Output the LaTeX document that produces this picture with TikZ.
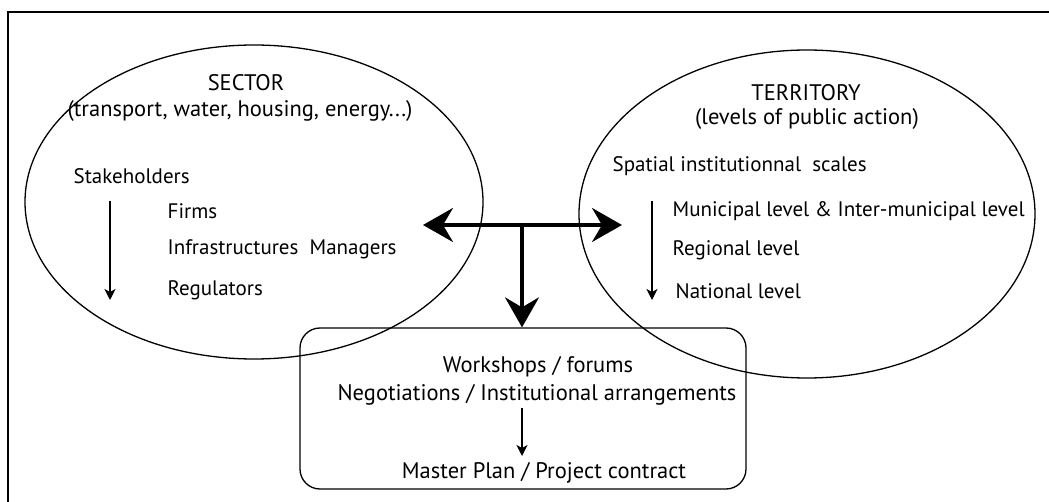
\documentclass[tikz,border=0pt]{standalone}
\usepackage{fontspec}
\setmainfont{PT Sans}
\usetikzlibrary{arrows.meta}
\usetikzlibrary{shapes.geometric, positioning}
\tikzset{
  txt/.style={inner sep=0pt, font=\fontsize{22.5}{26}\selectfont},
  txtl/.style={inner sep=0pt, anchor=west, font=\fontsize{21}{25}\selectfont},
  bigarrow/.style={line width=3.2pt, -{Stealth[length=30pt, width=34pt, inset=10pt]}},
  smallarrow/.style={line width=1.3pt, -{Stealth[length=11pt, width=11pt, inset=3pt]}},
}

\begin{document}
\begin{tikzpicture}[x=1pt, y=-1pt, line width=1.3pt]
      \useasboundingbox (0,0) rectangle (1049,502);
      \draw [line width=1.6pt] (1049,12) -- (8,12) -- (8,502);

      % the two fields
      \node [draw, ellipse, minimum width=458pt, minimum height=314pt] (sector) at (254,202) {};
      \node [draw, ellipse, minimum width=456pt, minimum height=328pt] (territory) at (807,214) {};
      \node [draw, rounded corners=20pt, minimum width=446pt, minimum height=161pt] (forum) at (523,408.5) {};

      % sector side
      \node [txt] (sectitle) at (246,83) {SECTOR};
      \node [txt] (secsub) at (240,111) {(transport, water, housing, energy...)};
      \node [txtl] (stake) at (73,176) {Stakeholders};
      \node [txtl] (firms) at (167,211) {Firms};
      \node [txtl] (infra) at (167,249) {Infrastructures\ \ Managers};
      \node [txtl] (regul) at (167,290) {Regulators};
      \coordinate (secfrom) at (110,201);
      \coordinate (secto) at (110,300);
      \draw [smallarrow] (secfrom) -- (secto);

      % territory side
      \node [txt] (tertitle) at (806,93) {TERRITORY};
      \node [txt] (tersub) at (807,119) {(levels of public action)};
      \node [txtl] (scales) at (612,166) {Spatial institutionnal\ \ scales};
      \node [txtl] (munic) at (672,211) {Municipal level \& Inter-municipal level};
      \node [txtl] (region) at (672,250) {Regional level};
      \node [txtl] (nation) at (675,291) {National level};
      \coordinate (terfrom) at (652,201);
      \coordinate (terto) at (652,300);
      \draw [smallarrow] (terfrom) -- (terto);

      % the T between them
      \coordinate (hub) at (522,225);
      \coordinate (tipl) at (423,225);
      \coordinate (tipr) at (622,225);
      \draw [bigarrow, {Stealth[length=30pt, width=34pt, inset=10pt]}-{Stealth[length=30pt, width=34pt, inset=10pt]}] (tipl) -- (tipr);
      \draw [bigarrow] (hub) -- (forum.north -| hub);

      % inside the box
      \node [txt] (workshops) at (538,367) {Workshops / forums};
      \node [txt] (nego) at (537,395) {Negotiations / Institutional arrangements};
      \node [txt] (plan) at (544,473) {Master Plan / Project contract};
      \coordinate (negofrom) at (522,408);
      \coordinate (planto) at (522,456);
      \draw [smallarrow] (negofrom) -- (planto);
\end{tikzpicture}
\end{document}
